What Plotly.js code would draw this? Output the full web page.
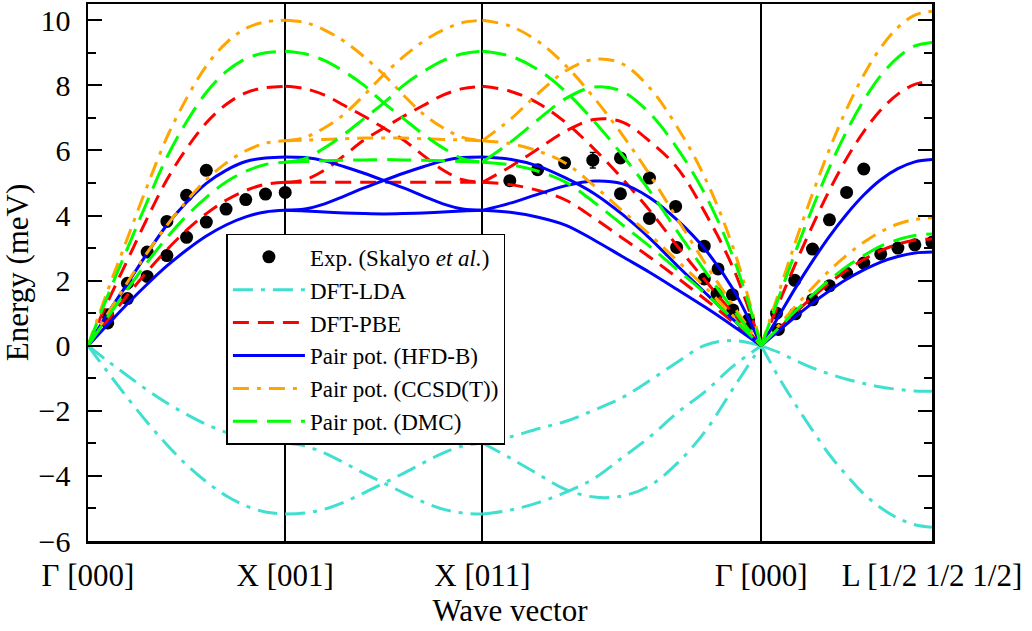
<!DOCTYPE html>
<html>
<head>
<meta charset="utf-8">
<script src="https://cdn.plot.ly/plotly-3.0.1.min.js"></script>
<style>html,body{margin:0;padding:0;background:#fff;}#chart{width:1032px;height:631px;}</style>
</head>
<body>
<div id="chart"></div>
<script>
// Path coordinates (units of 2π/a along Γ-X-X-Γ-L)
const qGX = [0,0.1,0.2,0.3,0.4,0.5,0.6,0.7,0.8,0.9,1.0];
const qXX = [1.0,1.1,1.2,1.3,1.4,1.5,1.6,1.7,1.8,1.9,2.0];
const qXG = [2.0,2.141,2.283,2.424,2.566,2.707,2.849,2.990,3.131,3.273,3.414];
const qGL = [3.414,3.501,3.587,3.674,3.760,3.847,3.934,4.020,4.107,4.193,4.280];

const symPoints = [0, 1, 2, 3.414, 4.280];
const symLabels = ['Γ [000]', 'X [001]', 'X [011]', 'Γ [000]', 'L [1/2 1/2 1/2]'];
const yTicks = [-6,-4,-2,0,2,4,6,8,10];

// Experiment (Skalyo et al.)
const qExp = [0.1,0.2,0.3,0.4,0.5,0.6,
  0.1,0.2,0.3,0.4,0.5,0.6,0.7,0.8,0.9,1.0,
  2.139,2.28,2.417,2.56,2.70,2.847,2.98,3.125,3.195,3.268,3.35,
  2.70,2.847,2.985,3.125,3.19,3.27,3.34,
  3.492,3.584,3.674,3.760,3.847,3.934,
  3.501,3.587,3.674,3.760,3.847,3.934,4.020,4.107,4.193,4.280];
const eExp = [0.95,1.92,2.88,3.82,4.62,5.39,
  0.70,1.45,2.13,2.77,3.33,3.80,4.20,4.49,4.66,4.71,
  5.07,5.41,5.62,5.70,5.77,5.15,4.28,3.06,2.36,1.57,0.80,
  4.67,3.91,3.02,2.05,1.60,1.10,0.60,
  1.00,2.01,2.97,3.87,4.71,5.43,
  0.50,0.98,1.41,1.84,2.23,2.54,2.82,3.00,3.10,3.18];
const errExp = [0,0,0,0,0,0,
  0,0,0,0,0,0,0,0,0,0,
  0.12,0.12,0.12,0.24,0.12,0.12,0.12,0.12,0.12,0.12,0,
  0,0,0,0,0,0,0,
  0,0,0,0,0,0,
  0,0,0,0,0,0,0,0,0,0];

// DFT-LDA
const ldaGX = [[0,-0.47,-0.92,-1.36,-1.76,-2.11,-2.42,-2.66,-2.84,-2.95,-2.99],
               [0,-0.81,-1.60,-2.35,-3.04,-3.66,-4.18,-4.61,-4.92,-5.11,-5.17]];
const ldaXX = [[-2.99,-3.08,-3.30,-3.60,-3.92,-4.22,-4.52,-4.80,-5.02,-5.14,-5.17],
               [-5.17,-5.14,-5.02,-4.80,-4.52,-4.22,-3.92,-3.60,-3.30,-3.08,-2.99],
               [-2.99,-2.99,-2.99,-2.99,-2.99,-2.99,-2.99,-2.99,-2.99,-2.99,-2.99]];
const ldaXG = [[-2.99,-2.80,-2.55,-2.32,-1.98,-1.60,-1.07,-0.50,0.02,0.16,0],
               [-2.99,-3.45,-3.95,-4.42,-4.65,-4.62,-4.30,-3.60,-2.62,-1.30,0],
               [-5.17,-5.05,-4.82,-4.50,-4.08,-3.45,-2.80,-2.05,-1.40,-0.62,0]];
const ldaGL = [[0,-0.20,-0.45,-0.68,-0.87,-1.03,-1.16,-1.27,-1.34,-1.39,-1.40],
               [0,-0.95,-1.80,-2.60,-3.35,-3.98,-4.55,-4.98,-5.30,-5.50,-5.58]];

// DFT-PBE
const pbeGX = [[0,0.78,1.55,2.28,2.95,3.55,4.06,4.47,4.77,4.96,5.02],
               [0,1.35,2.63,3.91,5.10,6.06,6.85,7.41,7.77,7.93,7.97]];
const pbeXX = [[7.97,7.90,7.70,7.38,7.05,6.69,6.32,5.85,5.40,5.10,5.02],
               [5.02,5.10,5.40,5.85,6.32,6.69,7.05,7.38,7.70,7.90,7.97],
               [5.02,5.02,5.02,5.02,5.02,5.02,5.02,5.02,5.02,5.02,5.02]];
const pbeXG = [[5.02,5.50,6.05,6.60,6.95,6.88,6.28,5.45,4.07,2.37,0],
               [7.97,7.82,7.45,6.85,6.05,5.15,4.15,3.05,2.00,0.98,0],
               [5.02,4.95,4.77,4.47,3.92,3.32,2.72,2.08,1.42,0.72,0]];
const pbeGL = [[0,0.51,1.01,1.49,1.93,2.32,2.65,2.92,3.12,3.24,3.28],
               [0,1.27,2.51,3.69,4.78,5.75,6.58,7.24,7.73,8.03,8.13]];

// Pair potential HFD-B
const hfdbGX = [[0,0.65,1.29,1.89,2.45,2.94,3.37,3.71,3.96,4.11,4.16],
                [0,0.99,1.91,2.84,3.71,4.41,4.99,5.39,5.66,5.77,5.80]];
const hfdbXX = [[5.80,5.78,5.68,5.50,5.30,5.08,4.85,4.60,4.36,4.20,4.16],
                [4.16,4.20,4.36,4.60,4.85,5.08,5.30,5.50,5.68,5.78,5.80],
                [4.16,4.14,4.11,4.08,4.06,4.05,4.06,4.08,4.11,4.14,4.16]];
const hfdbXG = [[4.16,4.38,4.66,4.92,5.06,4.98,4.55,3.85,2.95,1.72,0],
                [5.80,5.73,5.52,5.15,4.68,4.05,3.30,2.45,1.62,0.80,0],
                [4.16,4.10,3.95,3.70,3.25,2.75,2.25,1.72,1.18,0.60,0]];
const hfdbGL = [[0,0.45,0.89,1.31,1.69,2.04,2.33,2.57,2.74,2.85,2.88],
                [0,0.89,1.77,2.60,3.36,4.04,4.63,5.10,5.44,5.65,5.72]];

// Pair potential CCSD(T)
const ccsdGX = [[0,0.98,1.95,2.86,3.70,4.45,5.10,5.61,5.99,6.22,6.30],
                [0,1.70,3.30,4.90,6.40,7.60,8.60,9.30,9.75,9.95,10.0]];
const ccsdXX = [[10.0,9.93,9.70,9.35,8.88,8.33,7.70,7.12,6.70,6.40,6.30],
                [6.30,6.40,6.70,7.12,7.70,8.33,8.88,9.35,9.70,9.93,10.0],
                [6.30,6.32,6.34,6.36,6.38,6.38,6.38,6.36,6.34,6.32,6.30]];
const ccsdXG = [[6.30,6.95,7.75,8.45,8.80,8.67,7.92,6.70,5.13,2.99,0],
                [10.0,9.82,9.35,8.60,7.62,6.50,5.25,3.88,2.52,1.22,0],
                [6.30,6.21,5.98,5.60,4.92,4.16,3.41,2.60,1.79,0.91,0]];
const ccsdGL = [[0,0.61,1.21,1.78,2.31,2.78,3.18,3.50,3.74,3.88,3.93],
                [0,1.60,3.18,4.67,6.04,7.27,8.32,9.16,9.78,10.16,10.28]];

// Pair potential DMC
const dmcGX = [[0,0.88,1.74,2.56,3.32,3.99,4.56,5.03,5.36,5.57,5.64],
               [0,1.54,2.99,4.43,5.79,6.88,7.78,8.42,8.82,9.00,9.05]];
const dmcXX = [[9.05,8.97,8.76,8.42,8.00,7.46,6.98,6.50,6.08,5.75,5.64],
               [5.64,5.75,6.08,6.50,6.98,7.46,8.00,8.42,8.76,8.97,9.05],
               [5.64,5.66,5.68,5.70,5.71,5.72,5.71,5.70,5.68,5.66,5.64]];
const dmcXG = [[5.64,6.25,6.95,7.60,7.95,7.82,7.14,6.05,4.63,2.70,0],
               [9.05,8.90,8.48,7.80,6.90,5.88,4.75,3.50,2.28,1.10,0],
               [5.64,5.56,5.36,5.02,4.41,3.73,3.05,2.33,1.60,0.81,0]];
const dmcGL = [[0,0.54,1.06,1.56,2.02,2.43,2.77,3.06,3.26,3.39,3.43],
               [0,1.45,2.88,4.23,5.48,6.59,7.54,8.30,8.86,9.21,9.32]];

function assemble(segs) {
  const x = [], y = [];
  segs.forEach(([q, branches]) => {
    branches.forEach(b => {
      for (let i = 0; i < q.length; i++) { x.push(q[i]); y.push(b[i]); }
      x.push(null); y.push(null);
    });
  });
  return {x, y};
}
function model(name, GX, XX, XG, GL, color, dash) {
  const d = assemble([[qGX, GX], [qXX, XX], [qXG, XG], [qGL, GL]]);
  return {
    type: 'scatter', mode: 'lines', name: name, x: d.x, y: d.y,
    connectgaps: false,
    line: {color: color, width: 3, dash: dash, shape: 'spline', smoothing: 1}
  };
}

const traces = [
  {type: 'scatter', mode: 'markers', name: 'Exp. (Skalyo <i>et al.</i>)',
   x: qExp, y: eExp,
   marker: {color: 'black', size: 13},
   error_y: {type: 'data', array: errExp, visible: true, color: 'black', thickness: 1.5, width: 3}},
  model('DFT-LDA', ldaGX, ldaXX, ldaXG, ldaGL, '#40E0D0', '20px,8px,4px,8px'),
  model('DFT-PBE', pbeGX, pbeXX, pbeXG, pbeGL, '#FF0000', '16px,9px'),
  model('Pair pot. (HFD-B)', hfdbGX, hfdbXX, hfdbXG, hfdbGL, '#0000FF', 'solid'),
  model('Pair pot. (CCSD(T))', ccsdGX, ccsdXX, ccsdXG, ccsdGL, '#FFA500', '16px,8px,4px,8px'),
  model('Pair pot. (DMC)', dmcGX, dmcXX, dmcXG, dmcGL, '#00FF00', '24px,10px')
];

const layout = {
  width: 1032, height: 631,
  margin: {l: 88, r: 100, t: 4, b: 90},
  paper_bgcolor: 'white', plot_bgcolor: 'white',
  font: {family: 'Liberation Serif, DejaVu Serif, serif', color: 'black', size: 30},
  showlegend: true,
  legend: {
    x: 0.164, y: 0.572, xanchor: 'left', yanchor: 'top',
    bgcolor: 'white', bordercolor: 'black', borderwidth: 1.5,
    font: {size: 23}, itemwidth: 72, tracegroupgap: 0
  },
  xaxis: {
    range: [0, 4.280], tickmode: 'array', tickvals: symPoints, ticktext: symLabels,
    ticks: '', showgrid: true, gridcolor: 'black', gridwidth: 2,
    showline: true, linecolor: 'black', linewidth: 2.5, mirror: true,
    zeroline: false, tickfont: {size: 31}, ticklabelstandoff: 5,
    title: {text: 'Wave vector', font: {size: 31}, standoff: 4}
  },
  yaxis: {
    range: [-6, 10.5], tickmode: 'array', tickvals: yTicks,
    ticks: 'inside', ticklen: 14, tickwidth: 2, tickcolor: 'black',
    minor: {dtick: 1, ticks: 'inside', ticklen: 8, tickwidth: 2, tickcolor: 'black', showgrid: false},
    showgrid: false, zeroline: false,
    showline: true, linecolor: 'black', linewidth: 2.5, mirror: 'ticks',
    tickfont: {size: 30}, ticklabelstandoff: 9,
    title: {text: 'Energy (meV)', font: {size: 31}, standoff: 4}
  }
};

Plotly.newPlot('chart', traces, layout, {displayModeBar: false, staticPlot: true});
</script>
</body>
</html>
